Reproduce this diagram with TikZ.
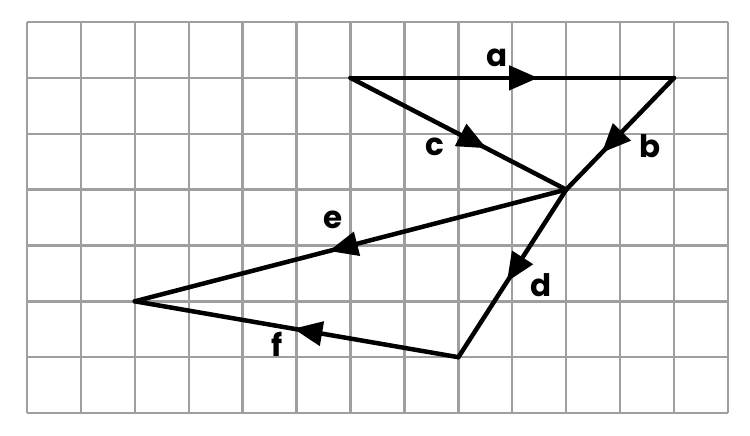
\documentclass[tikz,border=0pt]{standalone}
\usepackage{fontspec}
\setmainfont{Poppins}
\usetikzlibrary{decorations.markings,arrows.meta}
\tikzset{
  gridline/.style={draw=gray!75, line width=2.4pt},
  vec/.style={line width=4.5pt, line join=round, line cap=round, black},
  arrowat/.style={postaction={decorate}, decoration={markings,
      mark=at position #1 with {\arrow{Triangle[length=29pt,width=24pt]}}}},
  lbl/.style={anchor=base, inner sep=0pt, font=\fontsize{31}{31}\selectfont\bfseries}
}
\begin{document}
\begin{tikzpicture}[x=1pt,y=-1pt]
\useasboundingbox (0,0) rectangle (750,436);
% grid
\foreach \i in {0,...,13} {
  \draw[gridline] ({27+53.92*\i},22) -- ({27+53.92*\i},413);
}
\foreach \j in {0,...,7} {
  \draw[gridline] (27,{22+55.86*\j}) -- (728,{22+55.86*\j});
}
% points
\coordinate (A) at (350.5,77.9);
\coordinate (B) at (674.0,77.9);
\coordinate (C) at (566.2,189.6);
\coordinate (D) at (458.4,357.2);
\coordinate (E) at (134.8,301.3);
% vectors
\draw[vec, arrowat=0.58] (A) -- (B);
\draw[vec, arrowat=0.67] (B) -- (C);
\draw[vec, arrowat=0.63] (A) -- (C);
\draw[vec, arrowat=0.55] (C) -- (E);
\draw[vec, arrowat=0.55] (C) -- (D);
\draw[vec, arrowat=0.51] (D) -- (E);
% labels
\node[lbl] (la) at (497,66.5) {a};
\node[lbl] (lb) at (650,157) {b};
\node[lbl] (lc) at (435,155) {c};
\node[lbl] (ld) at (541.5,296.5) {d};
\node[lbl] (le) at (333,228) {e};
\node[lbl] (lf) at (277,356) {f};
\end{tikzpicture}
\end{document}
